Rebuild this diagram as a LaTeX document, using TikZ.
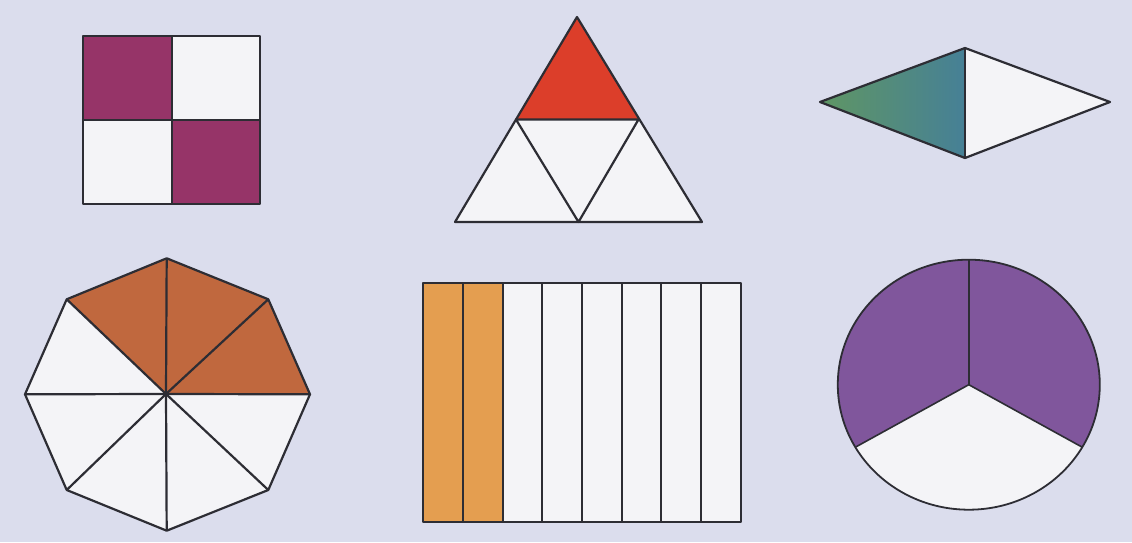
\documentclass[tikz,border=0pt]{standalone}
\usepackage{xcolor}
\usepackage{tikz}
\usetikzlibrary{calc}
\definecolor{fracBack}{RGB}{219,221,237}
\definecolor{fracWhite}{RGB}{244,244,247}
\definecolor{fracLine}{RGB}{45,45,52}
\definecolor{fracPlum}{RGB}{150,52,104}
\definecolor{fracRed}{RGB}{220,62,42}
\definecolor{fracGreen}{RGB}{95,150,100}
\definecolor{fracTeal}{RGB}{70,128,150}
\definecolor{fracRust}{RGB}{192,104,62}
\definecolor{fracOrange}{RGB}{228,158,80}
\definecolor{fracViolet}{RGB}{128,86,156}

\begin{document}
\begin{tikzpicture}[x=0.5pt, y=0.5pt,
  edge/.style={draw=fracLine, line width=1.1pt, line join=round},
  blank/.style={fill=fracWhite}]

% Background
\fill[fracBack] (0,0) rectangle (1132,542);

% Square: 2 of 4
\fill[fracWhite] (83,338) rectangle (260,506);
\fill[fracPlum]  (83,422) rectangle (172,506);
\fill[fracPlum]  (172,338) rectangle (260,422);
\draw[edge] (83,338) rectangle (260,506);
\draw[edge] (172,338) -- (172,506);
\draw[edge] (83,422) -- (260,422);

% Triangle: 1 of 4
\coordinate (apex) at (577,525);
\coordinate (bl)   at (455,320);
\coordinate (br)   at (702,320);
\coordinate (ml)   at (516,422.5);
\coordinate (mr)   at (638.5,422.5);
\coordinate (bm)   at (578.5,320);
\fill[fracWhite] (bl) -- (br) -- (apex) -- cycle;
\fill[fracRed]   (ml) -- (mr) -- (apex) -- cycle;
\draw[edge] (bl) -- (br) -- (apex) -- cycle;
\draw[edge] (ml) -- (mr) -- (bm) -- cycle;

% Rhombus: 1 of 2
\coordinate (rl) at (820,440);
\coordinate (rt) at (965,494);
\coordinate (rr) at (1110,440);
\coordinate (rb) at (965,384);
\fill[fracWhite] (rt) -- (rr) -- (rb) -- cycle;
\shade[left color=fracGreen, right color=fracTeal] (rl) -- (rt) -- (rb) -- cycle;
\draw[edge] (rl) -- (rt) -- (rr) -- (rb) -- cycle;
\draw[edge] (rt) -- (rb);

% Octagon: 3 of 8
\coordinate (oc) at (166,148);
\coordinate (o1) at (166.7,283.7);
\coordinate (o2) at (268.3,242.7);
\coordinate (o3) at (310,147.7);
\coordinate (o4) at (268.3,52);
\coordinate (o5) at (166.7,11.3);
\coordinate (o6) at (66.7,52);
\coordinate (o7) at (25,147.7);
\coordinate (o8) at (66.7,242.7);
\fill[fracWhite] (o1) -- (o2) -- (o3) -- (o4) -- (o5) -- (o6) -- (o7) -- (o8) -- cycle;
\fill[fracRust] (oc) -- (o8) -- (o1) -- (o2) -- (o3) -- cycle;
\foreach \k in {1,...,8}
  \draw[edge] (oc) -- (o\k);
\draw[edge] (o1) -- (o2) -- (o3) -- (o4) -- (o5) -- (o6) -- (o7) -- (o8) -- cycle;

% Strips: 2 of 8
\fill[fracWhite]  (423.3,20.3) rectangle (740.7,259.3);
\fill[fracOrange] (423.3,20.3) rectangle (502.7,259.3);
\foreach \i in {1,...,7}
  \draw[edge] ({423.3+\i*39.675},20.3) -- ({423.3+\i*39.675},259.3);
\draw[edge] (423.3,20.3) rectangle (740.7,259.3);

% Circle: 2 of 3
\coordinate (cc) at (968.8,157.3);
\fill[fracViolet] (cc) ellipse [x radius=131, y radius=125];
\fill[fracWhite] (cc) -- ($(cc)+(210:131 and 125)$)
  arc[start angle=210, end angle=330, x radius=131, y radius=125] -- cycle;
\foreach \a in {90,210,330}
  \draw[edge, line width=0.8pt] (cc) -- ($(cc)+(\a:131 and 125)$);
\draw[edge, line width=0.9pt] (cc) ellipse [x radius=131, y radius=125];

\end{tikzpicture}
\end{document}
